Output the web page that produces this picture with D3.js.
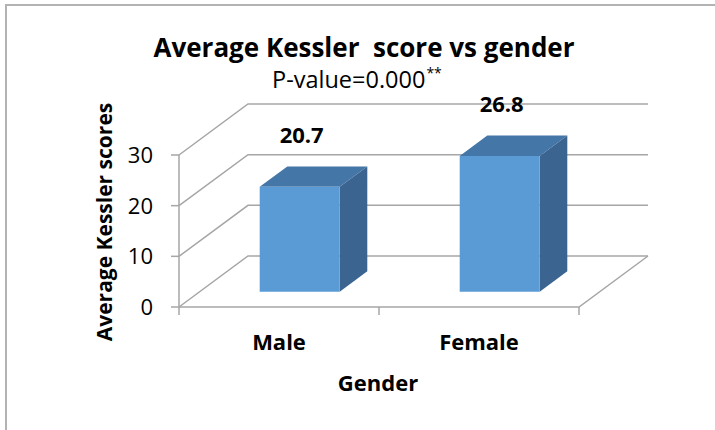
<!DOCTYPE html>
<meta charset="utf-8">
<script src="https://cdnjs.cloudflare.com/ajax/libs/d3/7.3.0/d3.min.js"></script>
<style>
  body { margin: 0; background: #fff; }
  text { font-family: "Open Sans", sans-serif; fill: #000; }
</style>
<div id="chart"></div>
<script>
    // data
    const categories = ["Male", "Female"]
    const scores = [20.7, 26.8]
    const yTicks = [0, 10, 20, 30]

    var width = 715, height = 430;

    var svg = d3.select("#chart")
        .append("svg")
        .attr("width", width)
        .attr("height", height);

    // outer chart border (only left and top edges are in view)
    svg.append("rect")
        .attr("x", 6).attr("y", 5)
        .attr("width", 800).attr("height", 500)
        .attr("fill", "none")
        .attr("stroke", "#b3b3b3")
        .attr("stroke-width", 2);

    // plot box: front plane + depth offset
    var plotLeft = 179, plotRight = 579, plotBase = 307, plotTop = 155;
    var DX = 69, DY = 51;          // full depth offset of the back wall
    var z0 = 0.3, z1 = 0.7;        // bar depth range

    var x = d3.scaleBand()
        .domain(categories)
        .range([plotLeft, plotRight])
        .paddingInner(0.6)
        .paddingOuter(0.3);

    var y = d3.scaleLinear()
        .domain([0, 30])
        .range([plotBase, plotTop]);

    function P(px, py, z) { return [px + z * DX, py - z * DY]; }
    var line = d3.line();
    var grid = "#a6a6a6";

    // back wall gridlines with the diagonal on the side wall
    yTicks.forEach(function (t) {
        svg.append("path")
            .attr("d", line([P(plotLeft, y(t), 0), P(plotLeft, y(t), 1), P(plotRight, y(t), 1)]))
            .attr("fill", "none")
            .attr("stroke", grid)
            .attr("stroke-width", 1.5);
    });

    // floor: right edge + front edge
    svg.append("path")
        .attr("d", line([P(plotRight, y(0), 1), P(plotRight, y(0), 0), P(plotLeft, y(0), 0)]))
        .attr("fill", "none")
        .attr("stroke", grid)
        .attr("stroke-width", 1.5);

    // vertical axis line + ticks
    svg.append("line")
        .attr("x1", plotLeft).attr("x2", plotLeft)
        .attr("y1", y(30)).attr("y2", y(0))
        .attr("stroke", grid).attr("stroke-width", 1.5);

    yTicks.forEach(function (t) {
        svg.append("line")
            .attr("x1", plotLeft - 8).attr("x2", plotLeft)
            .attr("y1", y(t)).attr("y2", y(t))
            .attr("stroke", grid).attr("stroke-width", 1.5);
        svg.append("text")
            .attr("x", 153).attr("y", y(t) + 8)
            .attr("text-anchor", "end")
            .style("font-size", "22px")
            .text(t);
    });

    // x ticks at band boundaries
    var step = x.step();
    d3.range(categories.length + 1).forEach(function (i) {
        var tx = plotLeft + i * step;
        svg.append("line")
            .attr("x1", tx).attr("x2", tx)
            .attr("y1", plotBase).attr("y2", plotBase + 8)
            .attr("stroke", grid).attr("stroke-width", 1.5);
    });

    // bars
    var bars = svg.selectAll(".bar")
        .data(categories)
        .enter()
        .append("g")
        .attr("class", "bar");

    bars.each(function (c, i) {
        var g = d3.select(this);
        var x0 = x(c), x1 = x0 + x.bandwidth();
        var yt = y(scores[i]), yb = y(0);

        g.append("path")
            .attr("d", line([P(x0, yt, z0), P(x1, yt, z0), P(x1, yt, z1), P(x0, yt, z1)]) + "Z")
            .attr("fill", "#4576a8");
        g.append("path")
            .attr("d", line([P(x1, yt, z0), P(x1, yt, z1), P(x1, yb, z1), P(x1, yb, z0)]) + "Z")
            .attr("fill", "#3b6590");
        g.append("path")
            .attr("d", line([P(x0, yt, z0), P(x1, yt, z0), P(x1, yb, z0), P(x0, yb, z0)]) + "Z")
            .attr("fill", "#5b9bd5");

        // value label
        var f = P(x0 + x.bandwidth() / 2, yt, z0);
        g.append("text")
            .attr("x", f[0] + 2).attr("y", f[1] - 44)
            .attr("text-anchor", "middle")
            .style("font-size", "22px").style("font-weight", "bold")
            .text(scores[i]);
    });

    // category labels
    categories.forEach(function (c) {
        svg.append("text")
            .attr("x", x(c) + x.bandwidth() / 2).attr("y", 350)
            .attr("text-anchor", "middle")
            .style("font-size", "22px").style("font-weight", "bold")
            .text(c);
    });

    // axis titles
    svg.append("text")
        .attr("x", 378).attr("y", 391)
        .attr("text-anchor", "middle")
        .style("font-size", "22px").style("font-weight", "bold")
        .text("Gender");

    svg.append("text")
        .attr("transform", "translate(112,222) rotate(-90)")
        .attr("text-anchor", "middle")
        .style("font-size", "21px").style("font-weight", "bold")
        .text("Average Kessler scores");

    // title + subtitle
    svg.append("text")
        .attr("x", 364).attr("y", 57)
        .attr("text-anchor", "middle")
        .style("font-size", "26px").style("font-weight", "bold")
        .style("white-space", "pre")
        .attr("xml:space", "preserve")
        .text("Average Kessler  score vs gender");

    var sub = svg.append("text")
        .attr("x", 272).attr("y", 88)
        .style("font-size", "23.5px");
    sub.append("tspan").text("P-value=0.000");
    sub.append("tspan")
        .attr("dx", 1)
        .attr("dy", -10)
        .style("font-size", "14px")
        .text("**");
</script>
